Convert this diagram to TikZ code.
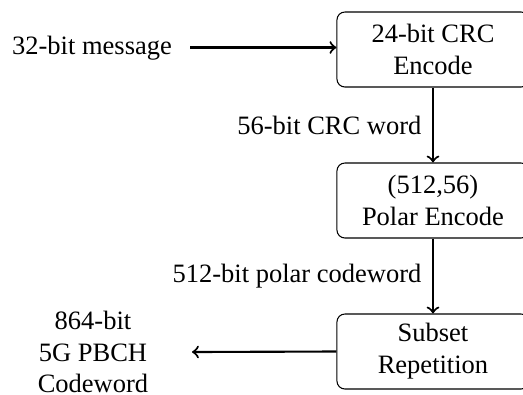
\documentclass[tikz,border=0pt]{standalone}
\usepackage{fontspec}
\setmainfont{Liberation Serif}
\begin{document}
\begin{tikzpicture}[x=0.3774pt,y=-0.3774pt,
  blockbox/.style={draw, rounded corners=3pt, minimum width=72.5pt, minimum height=28.3pt, align=center, inner sep=2pt},
  flow/.style={thick,->},
  lbl/.style={font=\fontsize{10}{12}\selectfont, align=center}]
\useasboundingbox (0,0) rectangle (523,394);
\node[blockbox, lbl] (crc) at (433,49.5) {24-bit CRC\\Encode};
\node[blockbox, lbl] (polar) at (433,200.5) {(512,56)\\Polar Encode};
\node[blockbox, lbl] (rep) at (433,351.5) {Subset\\Repetition};
\node[lbl, inner xsep=6.8pt, text height=7pt, text depth=2pt] (msg) at (92,47.5) {32-bit message};
\node[lbl] (out) at (93,352) {864-bit\\5G PBCH\\Codeword};
\coordinate (outend) at (192,352);
\draw[flow] (msg.east) -- (msg.east -| crc.west);
\draw[flow] (crc) -- node[lbl, midway, left, inner sep=4pt] {56-bit CRC word} (polar);
\draw[flow] (polar) -- node[lbl, midway, left, inner sep=4pt] {512-bit polar codeword} (rep);
\draw[flow] (rep.west) -- (outend);
\end{tikzpicture}
\end{document}
